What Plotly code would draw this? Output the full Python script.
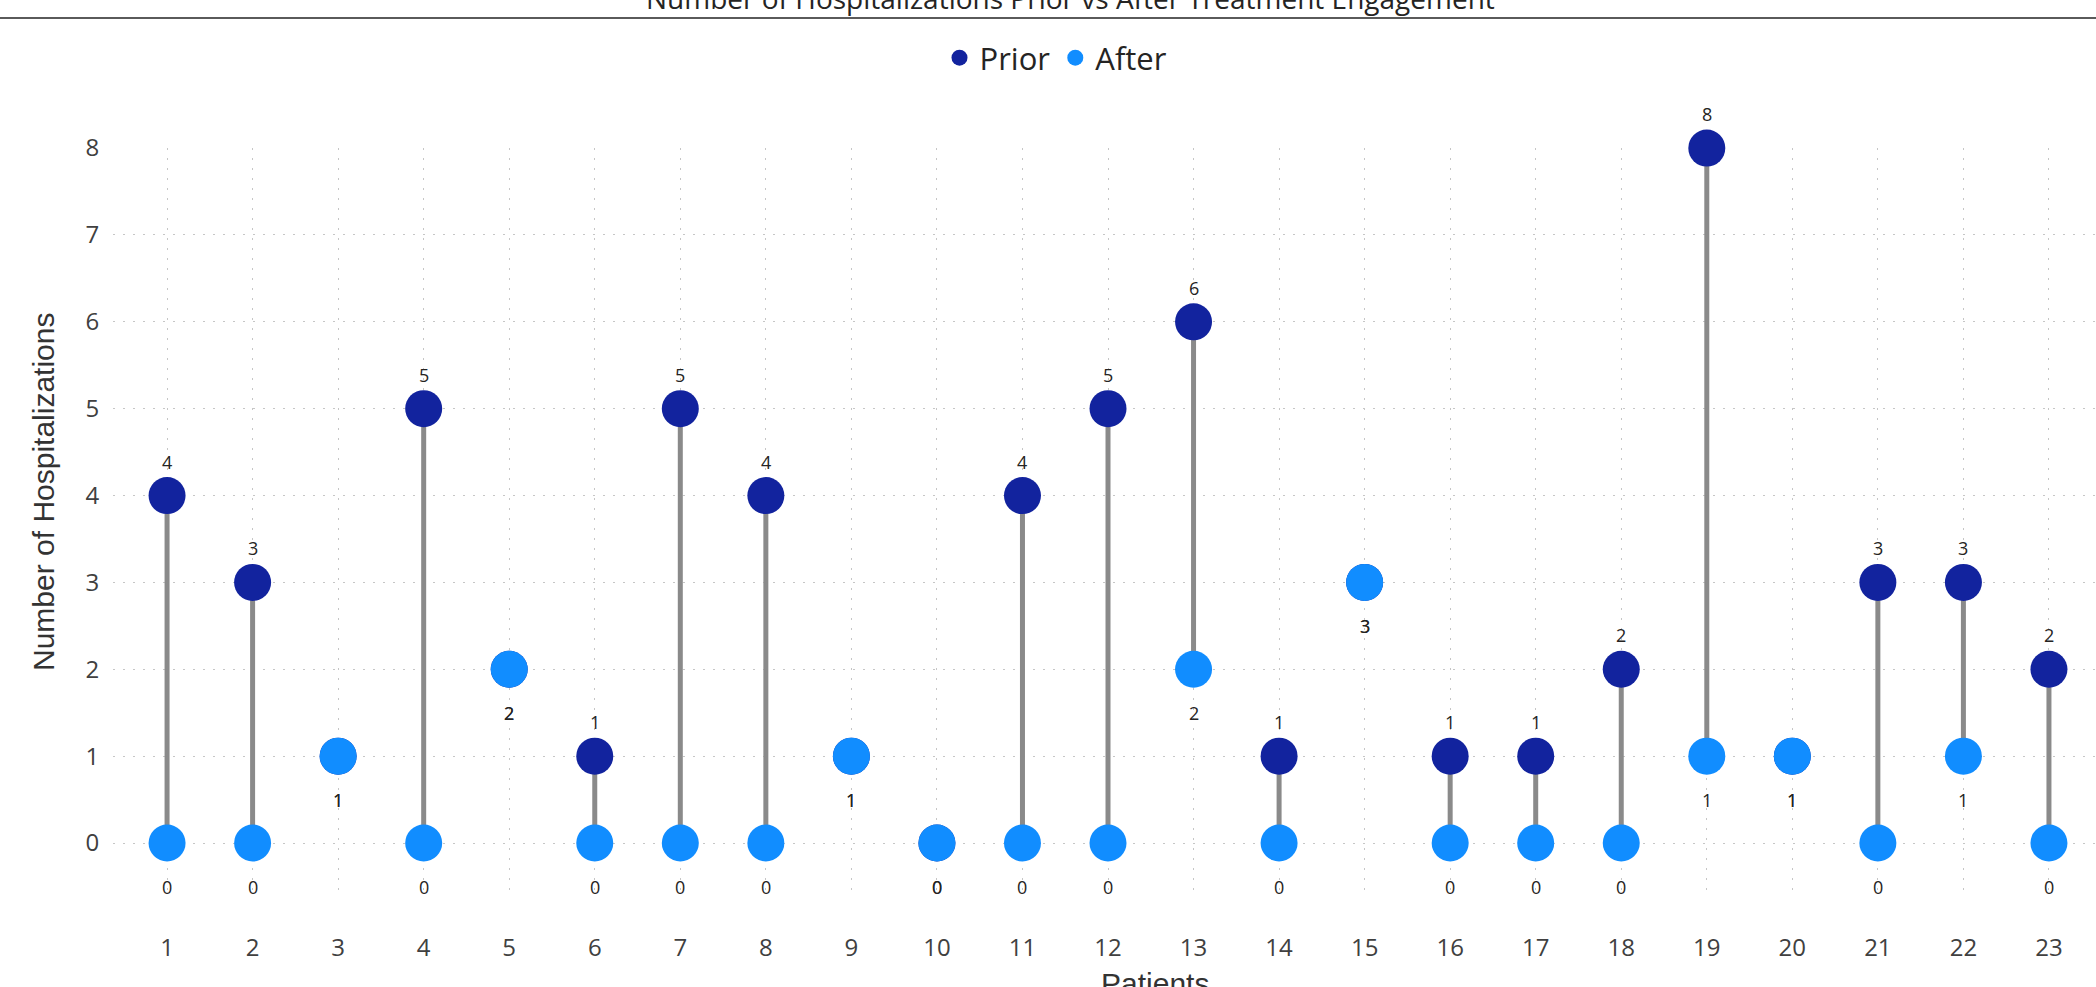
import plotly.graph_objects as go

# Hospitalizations per patient, before and after treatment engagement
patients = list(range(1, 24))
prior = [4, 3, 1, 5, 2, 1, 5, 4, 1, 0, 4, 5, 6, 1, 3, 1, 1, 2, 8, 1, 3, 3, 2]
after = [0, 0, 1, 0, 2, 0, 0, 0, 1, 0, 0, 0, 2, 0, 3, 0, 0, 0, 1, 1, 0, 1, 0]

PRIOR_COLOR = "#12239E"
AFTER_COLOR = "#118DFF"
STEM_COLOR = "#8A8A8A"
GRID_COLOR = "#C6C6C6"
TEXT_DARK = "#252423"
TICK_COLOR = "#404040"

W, H = 2096, 987
ML, MR, MT, MB = 113, 0, 148, 97
PW, PH = W - ML - MR, H - MT - MB


def paper_x(px):
    return (px - ML) / PW


def paper_y(py):
    return (H - MB - py) / PH


fig = go.Figure()

# grey stems joining each patient's two values
stem_x, stem_y = [], []
for p, a, b in zip(patients, prior, after):
    stem_x += [p, p, None]
    stem_y += [a, b, None]
fig.add_trace(go.Scatter(
    x=stem_x, y=stem_y, mode="lines",
    line=dict(color=STEM_COLOR, width=5),
    showlegend=False, hoverinfo="skip", cliponaxis=False,
))

fig.add_trace(go.Scatter(
    x=patients, y=prior, mode="markers", name="Prior",
    marker=dict(color=PRIOR_COLOR, size=37, line=dict(width=0)),
    cliponaxis=False,
))
fig.add_trace(go.Scatter(
    x=patients, y=after, mode="markers", name="After",
    marker=dict(color=AFTER_COLOR, size=37, line=dict(width=0)),
    cliponaxis=False,
))

# value labels: higher value above its dot, lower or equal value below
label_font = dict(family="Open Sans", size=18, color=TEXT_DARK)
annotations = []
for p, a, b in zip(patients, prior, after):
    annotations.append(dict(
        x=p, y=a, xref="x", yref="y", text=str(a), showarrow=False,
        yanchor="middle", yshift=34 if a > b else -44, font=label_font,
    ))
    annotations.append(dict(
        x=p, y=b, xref="x", yref="y", text=str(b), showarrow=False,
        yanchor="middle", yshift=-44, font=label_font,
    ))

# chart title, axis titles
annotations.append(dict(
    x=paper_x(1070), y=paper_y(-2), xref="paper", yref="paper",
    text="Number of Hospitalizations Prior vs After Treatment Engagement",
    showarrow=False, xanchor="center", yanchor="middle",
    font=dict(family="Open Sans", size=28, color=TEXT_DARK),
))
annotations.append(dict(
    x=paper_x(43), y=paper_y(492), xref="paper", yref="paper",
    text="Number of Hospitalizations", textangle=-90,
    showarrow=False, xanchor="center", yanchor="middle",
    font=dict(family="Liberation Sans", size=30, color="#333333"),
))
annotations.append(dict(
    x=paper_x(1155), y=paper_y(983), xref="paper", yref="paper",
    text="Patients", showarrow=False, xanchor="center", yanchor="middle",
    font=dict(family="Liberation Sans", size=30, color="#333333"),
))

fig.update_layout(
    width=W, height=H,
    margin=dict(l=ML, r=MR, t=MT, b=MB, pad=0),
    paper_bgcolor="white", plot_bgcolor="white",
    annotations=annotations,
    shapes=[dict(
        type="line", xref="paper", yref="paper",
        x0=paper_x(0), x1=paper_x(W), y0=paper_y(18), y1=paper_y(18),
        line=dict(color="#5A5A5A", width=2),
    )],
    legend=dict(
        orientation="h", x=paper_x(1056), xanchor="center",
        y=paper_y(58), yanchor="middle",
        font=dict(family="Open Sans", size=31, color=TEXT_DARK),
        itemsizing="trace", bgcolor="rgba(0,0,0,0)",
        tracegroupgap=0, itemwidth=30,
    ),
    xaxis=dict(
        range=[0.368, 23.55], tickmode="array", tickvals=patients,
        ticktext=[str(p) for p in patients],
        showgrid=True, gridcolor=GRID_COLOR, griddash="2px,8px", gridwidth=1,
        zeroline=False, showline=False,
        ticks="outside", ticklen=36, tickcolor="rgba(0,0,0,0)",
        tickfont=dict(family="Open Sans", size=24, color=TICK_COLOR),
    ),
    yaxis=dict(
        range=[-0.541, 8.001], tickmode="array", tickvals=list(range(0, 9)),
        showgrid=True, gridcolor=GRID_COLOR, griddash="2px,8px", gridwidth=1,
        zeroline=False, showline=False,
        ticks="outside", ticklen=8, tickcolor="rgba(0,0,0,0)",
        tickfont=dict(family="Open Sans", size=24, color=TICK_COLOR),
    ),
    hovermode=False,
)

fig.write_html("out.html")
